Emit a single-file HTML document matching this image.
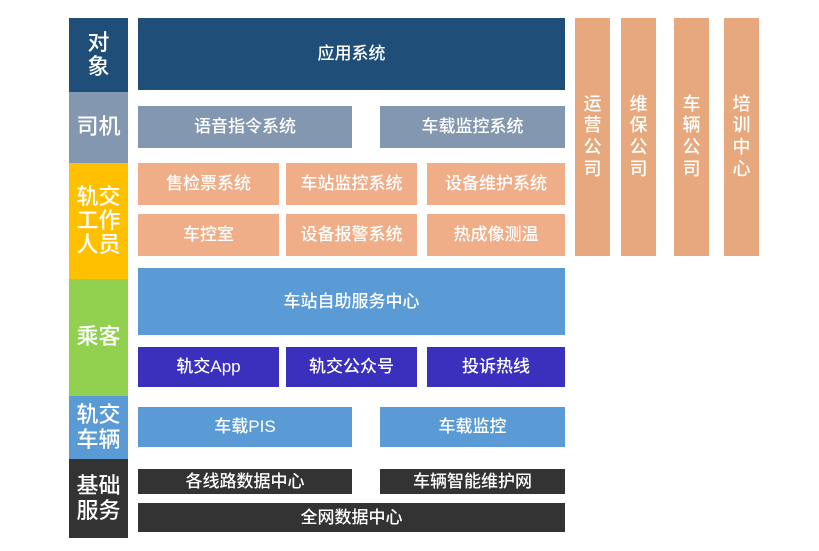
<!DOCTYPE html>
<html><head><meta charset="utf-8"><style>
body{margin:0;width:819px;height:551px;background:#fff;position:relative;overflow:hidden;font-family:"Liberation Sans","Noto Sans CJK SC",sans-serif;}
div.b{position:absolute;display:flex;align-items:center;justify-content:center;color:#fff;font-size:17px;text-align:center;line-height:1.15;font-weight:500;}
.l{font-size:22px !important;line-height:1.1 !important;}
.v{font-size:18px !important;line-height:1.2 !important;}
</style></head><body>
<div class="b l" style="left:69px;top:18px;width:59px;height:74px;background:#1f4e79">对<br>象</div>
<div class="b l" style="left:69px;top:92px;width:59px;height:71px;background:#8497b0">司机</div>
<div class="b l" style="left:69px;top:163px;width:59px;height:116px;background:#ffc000">轨交<br>工作<br>人员</div>
<div class="b l" style="left:69px;top:279px;width:59px;height:117px;background:#92d050">乘客</div>
<div class="b l" style="left:69px;top:396px;width:59px;height:63px;background:#5b9bd5">轨交<br>车辆</div>
<div class="b l" style="left:69px;top:459px;width:59px;height:79px;background:#333">基础<br>服务</div>

<div class="b" style="left:138px;top:18px;width:427px;height:72px;background:#1f4e79">应用系统</div>
<div class="b" style="left:138px;top:106px;width:214px;height:42px;background:#8497b0">语音指令系统</div>
<div class="b" style="left:380px;top:106px;width:185px;height:42px;background:#8497b0">车载监控系统</div>

<div class="b" style="left:138px;top:163px;width:141px;height:42px;background:#f0ae88">售检票系统</div>
<div class="b" style="left:286px;top:163px;width:131px;height:42px;background:#f0ae88">车站监控系统</div>
<div class="b" style="left:427px;top:163px;width:138px;height:42px;background:#f0ae88">设备维护系统</div>
<div class="b" style="left:138px;top:214px;width:141px;height:42px;background:#f0ae88">车控室</div>
<div class="b" style="left:286px;top:214px;width:131px;height:42px;background:#f0ae88">设备报警系统</div>
<div class="b" style="left:427px;top:214px;width:138px;height:42px;background:#f0ae88">热成像测温</div>

<div class="b" style="left:138px;top:268px;width:427px;height:67px;background:#5b9bd5">车站自助服务中心</div>
<div class="b" style="left:138px;top:347px;width:141px;height:40px;background:#3b2fbe">轨交App</div>
<div class="b" style="left:286px;top:347px;width:131px;height:40px;background:#3b2fbe">轨交公众号</div>
<div class="b" style="left:427px;top:347px;width:138px;height:40px;background:#3b2fbe">投诉热线</div>

<div class="b" style="left:138px;top:407px;width:214px;height:40px;background:#5b9bd5">车载PIS</div>
<div class="b" style="left:380px;top:407px;width:185px;height:40px;background:#5b9bd5">车载监控</div>

<div class="b" style="left:138px;top:469px;width:214px;height:25px;background:#333">各线路数据中心</div>
<div class="b" style="left:380px;top:469px;width:185px;height:25px;background:#333">车辆智能维护网</div>
<div class="b" style="left:138px;top:503px;width:427px;height:29px;background:#333">全网数据中心</div>

<div class="b v" style="left:575px;top:18px;width:35px;height:238px;background:#e6a87c">运<br>营<br>公<br>司</div>
<div class="b v" style="left:621px;top:18px;width:35px;height:238px;background:#e6a87c">维<br>保<br>公<br>司</div>
<div class="b v" style="left:674px;top:18px;width:35px;height:238px;background:#e6a87c">车<br>辆<br>公<br>司</div>
<div class="b v" style="left:724px;top:18px;width:35px;height:238px;background:#e6a87c">培<br>训<br>中<br>心</div>
</body></html>
